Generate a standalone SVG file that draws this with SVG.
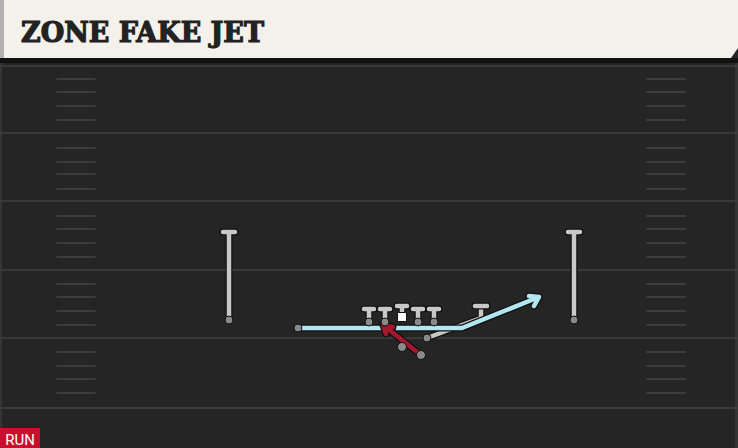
<svg xmlns="http://www.w3.org/2000/svg" width="738" height="448" viewBox="0 0 738 448">
<style>
.yard{stroke:#3a3a3a;stroke-width:2}
.hash{stroke:#3c3c3c;stroke-width:2;stroke-linecap:round}
.out{fill:none;stroke:#111;stroke-width:7;stroke-linecap:round;stroke-linejoin:round}
.gray{fill:none;stroke:#c8c8c8;stroke-width:4.5;stroke-linecap:round;stroke-linejoin:round}
.blue{fill:none;stroke:#b4e6f2;stroke-width:4.5;stroke-linecap:round;stroke-linejoin:round}
.red{fill:none;stroke:#a3172f;stroke-width:4.5;stroke-linecap:round;stroke-linejoin:round}
.dot{fill:#8a8a8a;stroke:#111;stroke-width:1}
</style>
<rect width="738" height="448" fill="#252525"/>
<rect x="0" y="60" width="2" height="388" fill="#353535"/>
<rect x="735" y="60" width="3" height="388" fill="#353535"/>
<g id="field">
<line class="yard" x1="0" y1="66" x2="738" y2="66"/>
<line class="yard" x1="0" y1="133" x2="738" y2="133"/>
<line class="yard" x1="0" y1="201" x2="738" y2="201"/>
<line class="yard" x1="0" y1="270" x2="738" y2="270"/>
<line class="yard" x1="0" y1="338" x2="738" y2="338"/>
<line class="yard" x1="0" y1="408" x2="738" y2="408"/>
<g id="hashes-left">
<line class="hash" x1="57" y1="79" x2="95" y2="79"/><line class="hash" x1="57" y1="92" x2="95" y2="92"/><line class="hash" x1="57" y1="106" x2="95" y2="106"/><line class="hash" x1="57" y1="120" x2="95" y2="120"/>
<line class="hash" x1="57" y1="148" x2="95" y2="148"/><line class="hash" x1="57" y1="162" x2="95" y2="162"/><line class="hash" x1="57" y1="174" x2="95" y2="174"/><line class="hash" x1="57" y1="189" x2="95" y2="189"/>
<line class="hash" x1="57" y1="216" x2="95" y2="216"/><line class="hash" x1="57" y1="229" x2="95" y2="229"/><line class="hash" x1="57" y1="243" x2="95" y2="243"/><line class="hash" x1="57" y1="257" x2="95" y2="257"/>
<line class="hash" x1="57" y1="284" x2="95" y2="284"/><line class="hash" x1="57" y1="297" x2="95" y2="297"/><line class="hash" x1="57" y1="311" x2="95" y2="311"/><line class="hash" x1="57" y1="325" x2="95" y2="325"/>
<line class="hash" x1="57" y1="352" x2="95" y2="352"/><line class="hash" x1="57" y1="366" x2="95" y2="366"/><line class="hash" x1="57" y1="379" x2="95" y2="379"/><line class="hash" x1="57" y1="393" x2="95" y2="393"/>
</g>
<g id="hashes-right">
<line class="hash" x1="647" y1="79" x2="685" y2="79"/><line class="hash" x1="647" y1="92" x2="685" y2="92"/><line class="hash" x1="647" y1="106" x2="685" y2="106"/><line class="hash" x1="647" y1="120" x2="685" y2="120"/>
<line class="hash" x1="647" y1="148" x2="685" y2="148"/><line class="hash" x1="647" y1="162" x2="685" y2="162"/><line class="hash" x1="647" y1="174" x2="685" y2="174"/><line class="hash" x1="647" y1="189" x2="685" y2="189"/>
<line class="hash" x1="647" y1="216" x2="685" y2="216"/><line class="hash" x1="647" y1="229" x2="685" y2="229"/><line class="hash" x1="647" y1="243" x2="685" y2="243"/><line class="hash" x1="647" y1="257" x2="685" y2="257"/>
<line class="hash" x1="647" y1="284" x2="685" y2="284"/><line class="hash" x1="647" y1="297" x2="685" y2="297"/><line class="hash" x1="647" y1="311" x2="685" y2="311"/><line class="hash" x1="647" y1="325" x2="685" y2="325"/>
<line class="hash" x1="647" y1="352" x2="685" y2="352"/><line class="hash" x1="647" y1="366" x2="685" y2="366"/><line class="hash" x1="647" y1="379" x2="685" y2="379"/><line class="hash" x1="647" y1="393" x2="685" y2="393"/>
</g>
</g>
<g id="header">
<rect x="0" y="58" width="738" height="5" fill="#111"/>
<path d="M0 0 H738 V48 L731 58 H0 Z" fill="#f4f1ea"/>
<rect x="0" y="0" width="4" height="58" fill="#b0b0b0"/>
<text x="21" y="42" font-family="'DejaVu Serif', serif" font-weight="bold" font-size="27" fill="#222" stroke="#222" stroke-width="1.2" textLength="243" lengthAdjust="spacingAndGlyphs">ZONE FAKE JET</text>
</g>
<g id="connectors">
<path class="out" d="M427 338 L470 322 L481 318 L481 307"/>
<path class="gray" d="M427 338 L470 322 L481 318 L481 307"/>
<path class="out" d="M298 328 H462 L539 297 M529 296 L539 297 L534 306"/>
<path class="blue" d="M298 328 H462 L539 297 M529 296 L539 297 L534 306"/>
<path class="out" d="M421 355 L383 325 M383 325 L393 327 M383 325 L386 334"/>
<path class="red" d="M421 355 L383 325 M383 325 L393 327 M383 325 L386 334"/>
</g>
<g id="wr-left">
<path class="out" d="M229 320 V232 M223 232 H235"/>
<path class="gray" d="M229 320 V232 M223 232 H235"/>
<circle class="dot" cx="229" cy="320" r="4" fill="#aaa"/>
</g>
<g id="wr-right">
<path class="out" d="M574 320 V232 M568 232 H580"/>
<path class="gray" d="M574 320 V232 M568 232 H580"/>
<circle class="dot" cx="574" cy="320" r="4" fill="#aaa"/>
</g>
<g id="lt"><path class="out" d="M369 321 V309 M364 309 H374"/><path class="gray" d="M369 321 V309 M364 309 H374"/><circle class="dot" cx="369" cy="322" r="4"/></g>
<g id="lg"><path class="out" d="M385 321 V309 M380 309 H390"/><path class="gray" d="M385 321 V309 M380 309 H390"/><circle class="dot" cx="385" cy="322" r="4"/></g>
<g id="c"><path class="out" d="M402 314 V306 M397 306 H407"/><path class="gray" d="M402 314 V306 M397 306 H407"/><rect x="397.5" y="312.5" width="9" height="9" fill="#fff" stroke="#111" stroke-width="1"/></g>
<g id="rg"><path class="out" d="M418 321 V309 M413 309 H423"/><path class="gray" d="M418 321 V309 M413 309 H423"/><circle class="dot" cx="418" cy="322" r="4"/></g>
<g id="rt"><path class="out" d="M434 321 V309 M429 309 H439"/><path class="gray" d="M434 321 V309 M429 309 H439"/><circle class="dot" cx="434" cy="322" r="4"/></g>
<g id="te"><path class="out" d="M475 306 H487"/><path class="gray" d="M475 306 H487"/><circle class="dot" cx="427" cy="338" r="4" fill="#bbb"/></g>
<g id="jet"><circle class="dot" cx="298" cy="328" r="4" fill="#aaa"/></g>
<g id="qb"><circle class="dot" cx="402" cy="347" r="4.5"/></g>
<g id="rb"><circle class="dot" cx="421" cy="355" r="4.5" fill="#a07880"/></g>
<g id="tag">
<rect x="0" y="428" width="40" height="20" fill="#c8102e"/>
<text x="20" y="444.5" font-family="Roboto, 'Liberation Sans', sans-serif" font-size="15" fill="#fff" text-anchor="middle">RUN</text>
</g>
</svg>
